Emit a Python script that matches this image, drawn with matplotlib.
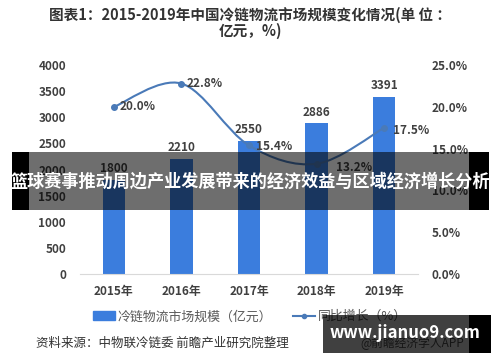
import matplotlib.pyplot as plt
import numpy as np
from matplotlib.path import Path
from matplotlib.patches import PathPatch, Rectangle
from matplotlib.lines import Line2D

plt.rcParams['font.family'] = ['Noto Sans CJK SC', 'DejaVu Sans']

# 数据
years = ['2015年', '2016年', '2017年', '2018年', '2019年']
market_size = [1800, 2210, 2550, 2886, 3391]
growth = [20.0, 22.8, 15.4, 13.2, 17.5]
left_ticks = [0, 500, 1000, 1500, 2000, 2500, 3000, 3500, 4000]
right_ticks = [0, 5, 10, 15, 20, 25]

bar_color = '#3b7ddd'
line_color = '#4a7ab8'
text_color = '#404040'

fig = plt.figure(figsize=(5, 3.62), dpi=100)
ax = fig.add_axes([0.16, 0.243, 0.676, 0.577])
x = np.arange(len(years))

ax.bar(x, market_size, 0.33, color=bar_color, zorder=2)
for xi, v in zip(x, market_size):
    ax.text(xi, v + 90, str(v), ha='center', va='bottom', fontsize=8.5,
            color=text_color, fontweight='bold')

ax.set_xlim(-0.5, len(years) - 0.5)
ax.set_ylim(0, 4000)
ax.set_yticks(left_ticks)
ax.set_xticks(x)
ax.set_xticklabels(years)
for s in ['top', 'right', 'left']:
    ax.spines[s].set_visible(False)
ax.spines['bottom'].set_color('#d9d9d9')
ax.tick_params(axis='both', length=0, colors=text_color, labelsize=8.5)
ax.tick_params(axis='y', pad=10)
ax.tick_params(axis='x', pad=8)
for lab in ax.get_xticklabels() + ax.get_yticklabels():
    lab.set_fontweight('bold')

# 同比增长 — 平滑曲线
ax2 = ax.twinx()
ax2.set_ylim(0, 25)
ax2.set_yticks(right_ticks)
ax2.set_yticklabels([f'{t:.1f}%' for t in right_ticks])
for s in ax2.spines.values():
    s.set_visible(False)
ax2.tick_params(axis='y', length=0, colors=text_color, labelsize=8.5, pad=10)
for lab in ax2.get_yticklabels():
    lab.set_fontweight('bold')

pts = np.column_stack([x, growth]).astype(float)
ext = np.vstack([pts[0], pts, pts[-1]])
verts = [tuple(pts[0])]
codes = [Path.MOVETO]
for i in range(len(pts) - 1):
    p0, p1, p2, p3 = ext[i], ext[i + 1], ext[i + 2], ext[i + 3]
    c1 = p1 + (p2 - p0) / 6
    c2 = p2 - (p3 - p1) / 6
    verts += [tuple(c1), tuple(c2), tuple(p2)]
    codes += [Path.CURVE4] * 3
ax2.add_patch(PathPatch(Path(verts, codes), fill=False, edgecolor=line_color, lw=1.5, zorder=3))
ax2.plot(x, growth, 'o', color=line_color, ms=4, zorder=4)

offsets = [(0.08, 0.0), (0.08, 0.0), (0.11, -0.1), (0.28, -0.4), (0.13, -0.3)]
for xi, g, (dx, dy) in zip(x, growth, offsets):
    ax2.text(xi + dx, g + dy, f'{g:.1f}%', ha='left', va='center', fontsize=8.5,
             color=text_color, fontweight='bold', zorder=5)

# 标题
fig.text(0.5, 0.958, '图表1：2015-2019年中国冷链物流市场规模变化情况(单 位 ：',
         ha='center', va='center', fontsize=10.5, fontweight='bold', color='#333333')
fig.text(0.5, 0.915, '亿元，%)', ha='center', va='center', fontsize=10.5,
         fontweight='bold', color='#333333')

# 图例
handles = [Rectangle((0, 0), 1, 1, color=bar_color),
           Line2D([0], [0], color=line_color, marker='o', ms=3, lw=1.5)]
fig.legend(handles, ['冷链物流市场规模（亿元）', '同比增长（%）'], loc='center',
           bbox_to_anchor=(0.5, 0.125), ncol=2, frameon=False, fontsize=9.3,
           handlelength=1.7, handletextpad=0.2, columnspacing=1.6,
           labelcolor='#595959')

# 资料来源
fig.text(0.072, 0.052, '资料来源：中物联冷链委 前瞻产业研究院整理', ha='left', va='center',
         fontsize=9, color='#333333')
fig.text(0.72, 0.052, '@前瞻经济学人APP', ha='left', va='center', fontsize=8.5,
         color='#555555')

# 横幅
band_y, band_h = 0.42, 0.16
fig.patches.append(Rectangle((0.024, band_y), 0.034, band_h, transform=fig.transFigure,
                             facecolor='black', edgecolor='none', zorder=10))
fig.patches.append(Rectangle((0.938, band_y), 0.04, band_h, transform=fig.transFigure,
                             facecolor='black', edgecolor='none', zorder=10))
fig.patches.append(Rectangle((0.058, band_y), 0.88, band_h, transform=fig.transFigure,
                             facecolor='black', alpha=0.57, edgecolor='none', zorder=11))
fig.text(0.5, 0.497, '篮球赛事推动周边产业发展带来的经济效益与区域经济增长分析', ha='center',
         va='center', fontsize=12.3, fontweight='bold', color='white', zorder=12)

# 水印
fig.patches.append(Rectangle((0.938, 0.025), 0.044, 0.105, transform=fig.transFigure,
                             facecolor='black', edgecolor='none', zorder=10))
fig.patches.append(Rectangle((0.646, 0.025), 0.292, 0.105, transform=fig.transFigure,
                             facecolor='black', alpha=0.75, edgecolor='none', zorder=11))
fig.text(0.81, 0.08, 'www.jianuo9.com', ha='center', va='center', fontsize=12,
         fontweight='bold', color='white', zorder=12)

fig.savefig('out.png', dpi=100, facecolor='white')
